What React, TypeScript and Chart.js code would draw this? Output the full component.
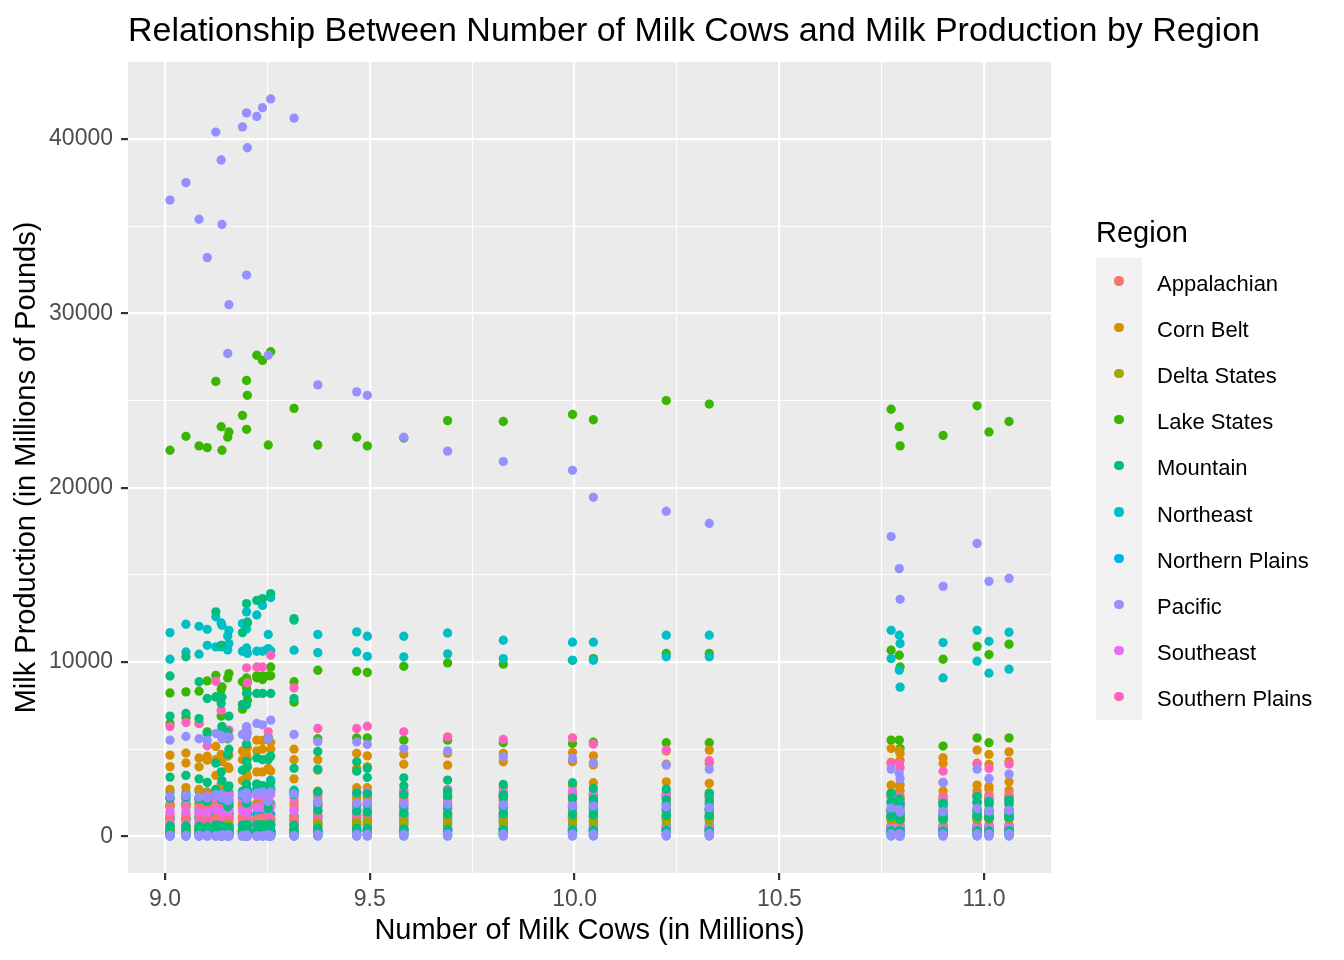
import { useEffect, useRef } from "react"
import { Chart, registerables } from "chart.js"

Chart.register(...registerables)

const FONT = '"Liberation Sans", Arial, Helvetica, sans-serif'

// number of milk cows (millions), one entry per year 1980-2014
const cows = [10.795, 10.9, 11.012, 11.061, 10.793, 10.983, 10.773, 10.329, 10.224, 10.046, 9.995, 9.826, 9.69, 9.583, 9.494, 9.468, 9.373, 9.252, 9.153, 9.156, 9.199, 9.103, 9.139, 9.083, 9.012, 9.051, 9.137, 9.189, 9.315, 9.201, 9.124, 9.199, 9.238, 9.224, 9.258]

const xTicks = [9, 9.25, 9.5, 9.75, 10, 10.25, 10.5, 10.75, 11]
const yTicks = [0, 5000, 10000, 15000, 20000, 25000, 30000, 35000, 40000]

// milk production (millions of pounds) per state, aligned with cows
// Appalachian
const kentucky = [2300, 2350, 2400, 2420, 2350, 2400, 2380, 2300, 2250, 2200, 2280, 2150, 2100, 2050, 1950, 1900, 1800, 1700, 1600, 1650, 1600, 1500, 1450, 1400, 1300, 1250, 1200, 1150, 1100, 1050, 1050, 1000, 1050, 1000, 1030]
const northCarolina = [1500, 1520, 1550, 1580, 1550, 1600, 1580, 1550, 1500, 1450, 1400, 1380, 1350, 1300, 1250, 1200, 1150, 1150, 1100, 1100, 1050, 1000, 980, 950, 920, 900, 900, 880, 860, 880, 900, 920, 950, 930, 900]
const tennessee = [2100, 2150, 2200, 2250, 2200, 2250, 2300, 2250, 2200, 2180, 2150, 2050, 2000, 1950, 1900, 1800, 1700, 1600, 1500, 1450, 1400, 1350, 1250, 1200, 1150, 1100, 1050, 1000, 980, 950, 900, 880, 900, 850, 860]
const virginia = [1800, 1850, 1900, 1900, 1880, 1950, 1950, 1900, 1900, 1880, 1900, 1850, 1850, 1800, 1800, 1780, 1750, 1750, 1700, 1750, 1750, 1720, 1700, 1680, 1700, 1700, 1680, 1700, 1750, 1720, 1700, 1720, 1750, 1700, 1750]
const westVirginia = [380, 370, 360, 360, 350, 340, 330, 320, 310, 300, 300, 290, 280, 270, 260, 250, 240, 240, 230, 220, 220, 210, 200, 200, 190, 180, 180, 170, 170, 160, 160, 150, 150, 150, 140]

// Corn Belt
const ohio = [4760, 4510, 4700, 4850, 4900, 4950, 5040, 4950, 4900, 4620, 4810, 4760, 4760, 4720, 4620, 4760, 4400, 4500, 4600, 4650, 4700, 4600, 4650, 4500, 4660, 4780, 4700, 4900, 5000, 5100, 5160, 5250, 5500, 5520, 5400]
const iowa = [4370, 4180, 4130, 4300, 4300, 4200, 4250, 4200, 4140, 4100, 4280, 4280, 4090, 4140, 4000, 3900, 3800, 3900, 3990, 3900, 3950, 4370, 4300, 3990, 4000, 4210, 4300, 4400, 4400, 4450, 4400, 4450, 5000, 4900, 5000]
const illinois = [2600, 2600, 2700, 2650, 2600, 2600, 2500, 2500, 2450, 2400, 2350, 2300, 2250, 2200, 2150, 2100, 2050, 2000, 1950, 1950, 1950, 1900, 1900, 1850, 1850, 1850, 1850, 1900, 1950, 1900, 1900, 1900, 1950, 1900, 1900]
const indiana = [2200, 2200, 2250, 2300, 2250, 2300, 2300, 2300, 2400, 2400, 2400, 2350, 2350, 2350, 2300, 2300, 2300, 2350, 2400, 2400, 2500, 2500, 2600, 2700, 2700, 2800, 3000, 3200, 3300, 3400, 3500, 3600, 3700, 3700, 3750]
const missouri = [2940, 3090, 2880, 3130, 2900, 2940, 2940, 3040, 3130, 3080, 2900, 2800, 2700, 2650, 2790, 2790, 2600, 2500, 2400, 2300, 2200, 2100, 2000, 1900, 1800, 1750, 1700, 1600, 1550, 1500, 1450, 1400, 1350, 1300, 1250]

// Delta States
const arkansas = [900, 920, 950, 980, 950, 960, 940, 900, 880, 850, 820, 800, 780, 740, 700, 660, 620, 580, 540, 500, 460, 430, 400, 370, 340, 320, 300, 280, 260, 240, 220, 200, 190, 180, 170]
const louisiana = [1100, 1120, 1150, 1180, 1150, 1150, 1120, 1100, 1080, 1050, 1000, 980, 950, 900, 870, 820, 780, 740, 700, 660, 630, 580, 540, 500, 460, 420, 400, 360, 340, 320, 300, 280, 270, 260, 250]
const mississippi = [950, 960, 980, 1000, 980, 970, 960, 940, 900, 880, 850, 820, 800, 760, 720, 700, 660, 620, 600, 560, 540, 500, 480, 450, 420, 400, 380, 360, 340, 320, 300, 280, 260, 250, 240]

// Lake States
const wisconsin = [22400, 23000, 23200, 23800, 23500, 24700, 24500, 24800, 25000, 23900, 24200, 23800, 23850, 22850, 22400, 22900, 22450, 22450, 22900, 23200, 23350, 22300, 22150, 22400, 22150, 22950, 23500, 24150, 24550, 25300, 26100, 26150, 27300, 27600, 27800]
const minnesota = [9720, 10160, 10430, 11020, 10390, 10900, 10680, 10490, 10490, 10200, 10100, 9880, 9950, 9760, 9400, 9470, 9530, 9210, 9090, 9340, 8710, 8920, 8580, 8330, 8230, 8290, 8420, 8870, 8870, 8900, 9240, 9090, 9210, 9210, 9210]
const michigan = [5040, 5180, 5370, 5650, 5520, 5650, 5520, 5370, 5370, 5400, 5330, 5370, 5520, 5520, 5650, 5650, 5600, 5700, 5600, 5700, 5800, 6000, 6100, 6480, 6480, 6800, 6900, 7300, 7700, 7800, 8000, 8500, 9000, 9100, 9720]

// Mountain
const idaho = [1800, 1900, 2000, 2100, 2150, 2300, 2460, 2460, 2710, 2750, 3080, 2980, 3230, 3360, 3900, 4280, 4870, 5600, 6000, 6900, 7560, 7910, 8000, 8870, 9200, 10300, 10960, 11690, 12490, 12240, 12880, 13350, 13640, 13540, 13930]
const newMexico = [1000, 1050, 1100, 1150, 1200, 1300, 1400, 1600, 1800, 2000, 2200, 2400, 2600, 2900, 3380, 3740, 3860, 4400, 4700, 5000, 5300, 5900, 6300, 6760, 6900, 7050, 7620, 7560, 7910, 8200, 8000, 8200, 8200, 8200, 8200]
const arizona = [1700, 1750, 1800, 1850, 1900, 1950, 2000, 2050, 2100, 2150, 2200, 2250, 2300, 2400, 2450, 2500, 2550, 2700, 2800, 2900, 3000, 3100, 3200, 3300, 3400, 3500, 3700, 3800, 3900, 4000, 4200, 4300, 4400, 4500, 4600]
const colorado = [1000, 1000, 1050, 1100, 1100, 1150, 1150, 1200, 1200, 1250, 1250, 1300, 1300, 1350, 1400, 1450, 1500, 1600, 1700, 1800, 1900, 2000, 2100, 2150, 2200, 2300, 2400, 2500, 2600, 2650, 2700, 2800, 2900, 3000, 3100]
const utah = [1300, 1350, 1400, 1450, 1450, 1500, 1500, 1550, 1550, 1600, 1650, 1650, 1700, 1750, 1800, 1800, 1850, 1900, 1950, 2000, 2050, 2100, 2100, 2150, 2200, 2250, 2300, 2350, 2400, 2400, 2450, 2500, 2550, 2600, 2650]
const montana = [300, 300, 310, 320, 310, 300, 300, 290, 290, 280, 280, 280, 270, 270, 270, 270, 270, 270, 270, 280, 280, 290, 290, 300, 300, 300, 300, 300, 300, 290, 290, 280, 280, 280, 280]
const nevada = [270, 280, 290, 300, 300, 310, 320, 330, 340, 360, 370, 380, 400, 420, 440, 460, 470, 480, 500, 510, 520, 540, 560, 580, 600, 600, 620, 640, 650, 660, 660, 670, 680, 680, 690]
const wyoming = [120, 120, 125, 125, 130, 130, 130, 125, 125, 120, 120, 115, 115, 110, 110, 105, 105, 100, 100, 100, 105, 110, 115, 115, 120, 120, 125, 125, 125, 130, 130, 130, 135, 135, 140]

// Northeast
const newYork = [11060, 11120, 11190, 11710, 11540, 11820, 11820, 11540, 11540, 11140, 11140, 11250, 11670, 11480, 11480, 11730, 11580, 11580, 11500, 11820, 11900, 11880, 12110, 12050, 11690, 12170, 12240, 12210, 12400, 12300, 12600, 12880, 13250, 12700, 13700]
const pennsylvania = [8560, 9090, 9360, 9590, 9530, 10050, 10200, 10300, 10300, 10100, 10100, 10200, 10470, 10300, 10330, 10580, 10540, 10770, 10700, 11060, 10810, 10960, 10960, 10450, 10160, 10580, 10870, 10620, 10680, 10500, 10870, 10620, 10620, 10620, 10650]
const vermont = [2000, 2050, 2100, 2200, 2250, 2300, 2300, 2250, 2300, 2350, 2400, 2400, 2450, 2450, 2500, 2500, 2550, 2500, 2600, 2550, 2500, 2550, 2600, 2600, 2550, 2500, 2550, 2600, 2650, 2600, 2600, 2650, 2700, 2700, 2750]
const maine = [620, 630, 640, 650, 650, 650, 640, 640, 640, 640, 650, 640, 640, 630, 630, 630, 620, 620, 610, 620, 620, 620, 610, 610, 600, 600, 600, 610, 620, 610, 620, 620, 630, 620, 620]
const maryland = [1450, 1470, 1500, 1520, 1500, 1480, 1450, 1420, 1400, 1380, 1360, 1330, 1300, 1270, 1250, 1220, 1200, 1170, 1150, 1120, 1100, 1080, 1050, 1030, 1000, 980, 970, 960, 950, 960, 960, 980, 1000, 1000, 1000]
const massachusetts = [450, 460, 470, 480, 470, 460, 450, 440, 430, 420, 410, 400, 390, 380, 370, 360, 350, 340, 330, 320, 310, 300, 290, 280, 270, 260, 250, 250, 240, 240, 240, 240, 230, 230, 230]
const newHampshire = [350, 355, 360, 365, 360, 360, 350, 345, 340, 340, 335, 330, 330, 325, 320, 320, 315, 310, 310, 305, 300, 300, 300, 295, 290, 290, 290, 285, 285, 280, 280, 280, 285, 280, 280]
const newJersey = [430, 420, 410, 400, 390, 380, 370, 360, 350, 340, 330, 310, 300, 290, 280, 270, 260, 250, 240, 230, 220, 210, 200, 190, 180, 170, 160, 160, 150, 150, 150, 140, 140, 140, 130]
const connecticut = [500, 510, 520, 530, 520, 510, 500, 490, 490, 480, 480, 470, 460, 450, 450, 440, 430, 430, 420, 420, 410, 410, 400, 400, 390, 390, 390, 380, 380, 380, 380, 380, 380, 380, 380]
const delaware = [140, 140, 145, 145, 140, 140, 135, 135, 130, 130, 130, 125, 125, 120, 120, 120, 115, 115, 115, 110, 110, 110, 110, 105, 105, 105, 100, 100, 100, 100, 100, 100, 100, 100, 100]
const rhodeIsland = [40, 40, 40, 38, 38, 36, 36, 35, 34, 33, 32, 31, 30, 30, 29, 28, 27, 27, 26, 25, 25, 24, 24, 23, 23, 22, 22, 22, 21, 21, 20, 20, 20, 20, 20]

// Northern Plains
const southDakota = [1900, 1950, 2000, 2000, 1950, 1950, 1900, 1850, 1800, 1750, 1700, 1650, 1600, 1550, 1500, 1450, 1400, 1350, 1300, 1250, 1200, 1150, 1100, 1050, 1000, 1000, 1000, 1100, 1200, 1300, 1400, 1500, 1600, 1700, 1800]
const northDakota = [1100, 1120, 1150, 1180, 1150, 1150, 1120, 1080, 1050, 1000, 980, 950, 920, 880, 840, 800, 760, 720, 680, 650, 620, 580, 550, 520, 500, 480, 460, 440, 420, 400, 380, 370, 360, 350, 340]
const nebraska = [1200, 1220, 1250, 1280, 1250, 1250, 1220, 1200, 1180, 1150, 1150, 1120, 1100, 1080, 1050, 1030, 1000, 1000, 1000, 1020, 1050, 1080, 1100, 1150, 1100, 1100, 1080, 1100, 1150, 1150, 1150, 1150, 1200, 1250, 1280]
const kansas = [1000, 1020, 1050, 1080, 1050, 1080, 1100, 1100, 1100, 1150, 1150, 1180, 1200, 1200, 1200, 1180, 1150, 1200, 1250, 1300, 1350, 1400, 1500, 1600, 1700, 1900, 2000, 2200, 2500, 2450, 2600, 2800, 2900, 3000, 3230]

// Pacific
const california = [13600, 14340, 14630, 14800, 15360, 16800, 17200, 17950, 18650, 19450, 21000, 21500, 22100, 22900, 25300, 25500, 25900, 27600, 27700, 30500, 32200, 33200, 35100, 35400, 36500, 37500, 38800, 40700, 41200, 39500, 40400, 41500, 41800, 41300, 42300]
const washington = [3300, 3090, 3320, 3570, 3610, 3860, 3860, 3860, 4090, 4220, 4470, 4570, 4910, 5040, 5270, 5420, 5430, 5600, 5700, 5650, 5700, 5500, 5600, 5600, 5520, 5730, 5800, 5850, 5850, 5950, 5900, 6300, 6400, 6480, 6670]
const oregon = [1400, 1420, 1450, 1500, 1550, 1600, 1620, 1650, 1700, 1750, 1750, 1800, 1850, 1850, 1900, 1900, 1950, 2000, 2050, 2100, 2150, 2200, 2200, 2250, 2300, 2350, 2400, 2400, 2450, 2400, 2400, 2500, 2550, 2500, 2550]
const alaska = [15, 16, 17, 18, 18, 19, 20, 20, 21, 21, 22, 22, 22, 21, 20, 19, 18, 17, 16, 15, 15, 14, 14, 14, 13, 13, 13, 13, 13, 13, 12, 12, 12, 12, 12]
const hawaii = [140, 140, 145, 150, 150, 150, 150, 150, 145, 140, 140, 135, 130, 125, 120, 115, 110, 100, 95, 90, 90, 85, 80, 75, 70, 65, 60, 55, 50, 45, 40, 40, 38, 36, 35]

// Southeast
const florida = [2000, 2050, 2100, 2150, 2200, 2250, 2300, 2350, 2400, 2500, 2600, 2560, 2690, 2600, 2550, 2500, 2450, 2400, 2350, 2350, 2300, 2300, 2250, 2200, 2150, 2100, 2100, 2150, 2200, 2250, 2200, 2250, 2300, 2350, 2400]
const georgia = [1300, 1350, 1400, 1450, 1450, 1500, 1550, 1550, 1600, 1600, 1650, 1650, 1600, 1600, 1550, 1550, 1500, 1500, 1450, 1450, 1450, 1400, 1400, 1400, 1400, 1450, 1450, 1450, 1500, 1500, 1550, 1600, 1650, 1650, 1700]
const alabama = [700, 680, 660, 640, 610, 590, 570, 540, 520, 500, 480, 470, 440, 420, 400, 380, 370, 340, 330, 320, 300, 280, 260, 250, 220, 210, 190, 180, 170, 160, 150, 140, 130, 125, 110]
const southCarolina = [450, 460, 470, 480, 470, 470, 460, 450, 440, 430, 420, 410, 400, 390, 380, 370, 360, 350, 340, 330, 320, 310, 300, 290, 280, 270, 260, 250, 250, 240, 240, 230, 230, 220, 220]

// Southern Plains
const texas = [3940, 3740, 3900, 4140, 4180, 4140, 4180, 4340, 4950, 5290, 5650, 5560, 5710, 6000, 6320, 6190, 6190, 6000, 5900, 6100, 6200, 5200, 6300, 6480, 6300, 6530, 7240, 7560, 8520, 8800, 8900, 9670, 9720, 9720, 10390]
const oklahoma = [1100, 1100, 1150, 1150, 1150, 1200, 1200, 1200, 1200, 1150, 1150, 1100, 1100, 1050, 1050, 1000, 1000, 950, 950, 900, 900, 850, 850, 800, 750, 700, 700, 700, 700, 650, 650, 700, 700, 700, 700]

const regionNames = ["Appalachian", "Corn Belt", "Delta States", "Lake States", "Mountain", "Northeast", "Northern Plains", "Pacific", "Southeast", "Southern Plains"]
const regionColors = ["#F8766D", "#D89000", "#A3A500", "#39B600", "#00BF7D", "#00BFC4", "#00B0F6", "#9590FF", "#E76BF3", "#FF62BC"]
const regionStates = [
  [kentucky, northCarolina, tennessee, virginia, westVirginia],
  [illinois, indiana, iowa, missouri, ohio],
  [arkansas, louisiana, mississippi],
  [michigan, minnesota, wisconsin],
  [arizona, colorado, idaho, montana, nevada, newMexico, utah, wyoming],
  [connecticut, delaware, maine, maryland, massachusetts, newHampshire, newJersey, newYork, pennsylvania, rhodeIsland, vermont],
  [kansas, nebraska, northDakota, southDakota],
  [alaska, california, hawaii, oregon, washington],
  [alabama, florida, georgia, southCarolina],
  [oklahoma, texas],
]
// lower value is painted on top
const drawOrder = [5, 7, 2, 9, 1, 8, 6, 0, 3, 4]

const isHalf = (v: number) => Math.abs(v * 2 - Math.round(v * 2)) < 1e-6

const panelBackground = {
  id: "panelBackground",
  beforeDraw(chart: Chart) {
    const { ctx, chartArea } = chart
    ctx.save()
    ctx.fillStyle = "#EBEBEB"
    ctx.fillRect(chartArea.left, chartArea.top, chartArea.right - chartArea.left, chartArea.bottom - chartArea.top)
    ctx.restore()
  },
}

export default function App() {
  const canvasRef = useRef<HTMLCanvasElement>(null)

  useEffect(() => {
    const ctx = canvasRef.current?.getContext("2d")
    if (!ctx) return

    const datasets = regionNames.map((name, r) => ({
      label: name,
      data: regionStates[r].flatMap((state) => cows.map((x, i) => ({ x, y: state[i] }))),
      backgroundColor: regionColors[r],
      borderWidth: 0,
      pointRadius: 4.65,
      pointHoverRadius: 4.65,
      order: drawOrder[r],
    }))

    const chart = new Chart(ctx, {
      type: "scatter",
      data: { datasets },
      plugins: [panelBackground],
      options: {
        responsive: false,
        animation: false,
        layout: { padding: { left: 0, right: 293, top: 62, bottom: 0 } },
        plugins: {
          legend: { display: false },
          tooltip: { enabled: false },
          title: { display: false },
        },
        scales: {
          x: {
            type: "linear",
            min: 8.9095,
            max: 11.1635,
            afterBuildTicks: (axis) => {
              axis.ticks = xTicks.map((value) => ({ value }))
            },
            afterFit: (axis) => {
              axis.height = 87
            },
            ticks: {
              autoSkip: false,
              maxRotation: 0,
              padding: 6,
              color: "#4D4D4D",
              font: { family: FONT, size: 23 },
              callback: (v) => (isHalf(Number(v)) ? Number(v).toFixed(1) : ""),
            },
            grid: {
              color: "#FFFFFF",
              lineWidth: (c) => (isHalf(c.tick?.value ?? 0) ? 2.2 : 1.1),
              tickColor: (c) => (isHalf(c.tick?.value ?? 0) ? "#333333" : "rgba(0,0,0,0)"),
              tickLength: 7,
              tickWidth: 2.2,
            },
            border: { display: false },
            title: {
              display: true,
              text: "Number of Milk Cows (in Millions)",
              color: "#000000",
              font: { family: FONT, size: 29 },
              padding: { top: 0, bottom: 12 },
            },
          },
          y: {
            type: "linear",
            min: -2100,
            max: 44420,
            afterBuildTicks: (axis) => {
              axis.ticks = yTicks.map((value) => ({ value }))
            },
            afterFit: (axis) => {
              axis.width = 128
            },
            ticks: {
              autoSkip: false,
              padding: 8,
              color: "#4D4D4D",
              font: { family: FONT, size: 23 },
              callback: (v) => (Number(v) % 10000 === 0 ? String(v) : ""),
            },
            grid: {
              color: "#FFFFFF",
              lineWidth: (c) => ((c.tick?.value ?? 0) % 10000 === 0 ? 2.2 : 1.1),
              tickColor: (c) => ((c.tick?.value ?? 0) % 10000 === 0 ? "#333333" : "rgba(0,0,0,0)"),
              tickLength: 7,
              tickWidth: 2.2,
            },
            border: { display: false },
            title: {
              display: true,
              text: "Milk Production (in Millions of Pounds)",
              color: "#000000",
              font: { family: FONT, size: 29 },
              padding: { top: 10, bottom: 0 },
            },
          },
        },
      },
    })

    return () => chart.destroy()
  }, [])

  return (
    <div style={{ position: "absolute", left: 0, top: 0, width: 1344, height: 960, background: "#FFFFFF", fontFamily: FONT }}>
      <canvas ref={canvasRef} width={1344} height={960} style={{ display: "block" }} />
      <div style={{ position: "absolute", left: 128, top: 11.9, fontSize: 34, lineHeight: "34px", color: "#000000", whiteSpace: "nowrap" }}>
        Relationship Between Number of Milk Cows and Milk Production by Region
      </div>
      <div style={{ position: "absolute", left: 1096, top: 217.5 }}>
        <div style={{ fontSize: 29, lineHeight: "29px", color: "#000000", marginBottom: 11.5, whiteSpace: "nowrap" }}>Region</div>
        {regionNames.map((name, i) => (
          <div key={name} style={{ display: "flex", alignItems: "center", height: 46.2 }}>
            <div style={{ width: 46, height: 46.2, background: "#F2F2F2", display: "flex", alignItems: "center", justifyContent: "center" }}>
              <div style={{ width: 9.3, height: 9.3, borderRadius: "50%", background: regionColors[i] }} />
            </div>
            <div style={{ marginLeft: 15, fontSize: 22, lineHeight: "22px", paddingTop: 5, color: "#000000", whiteSpace: "nowrap" }}>{name}</div>
          </div>
        ))}
      </div>
    </div>
  )
}
